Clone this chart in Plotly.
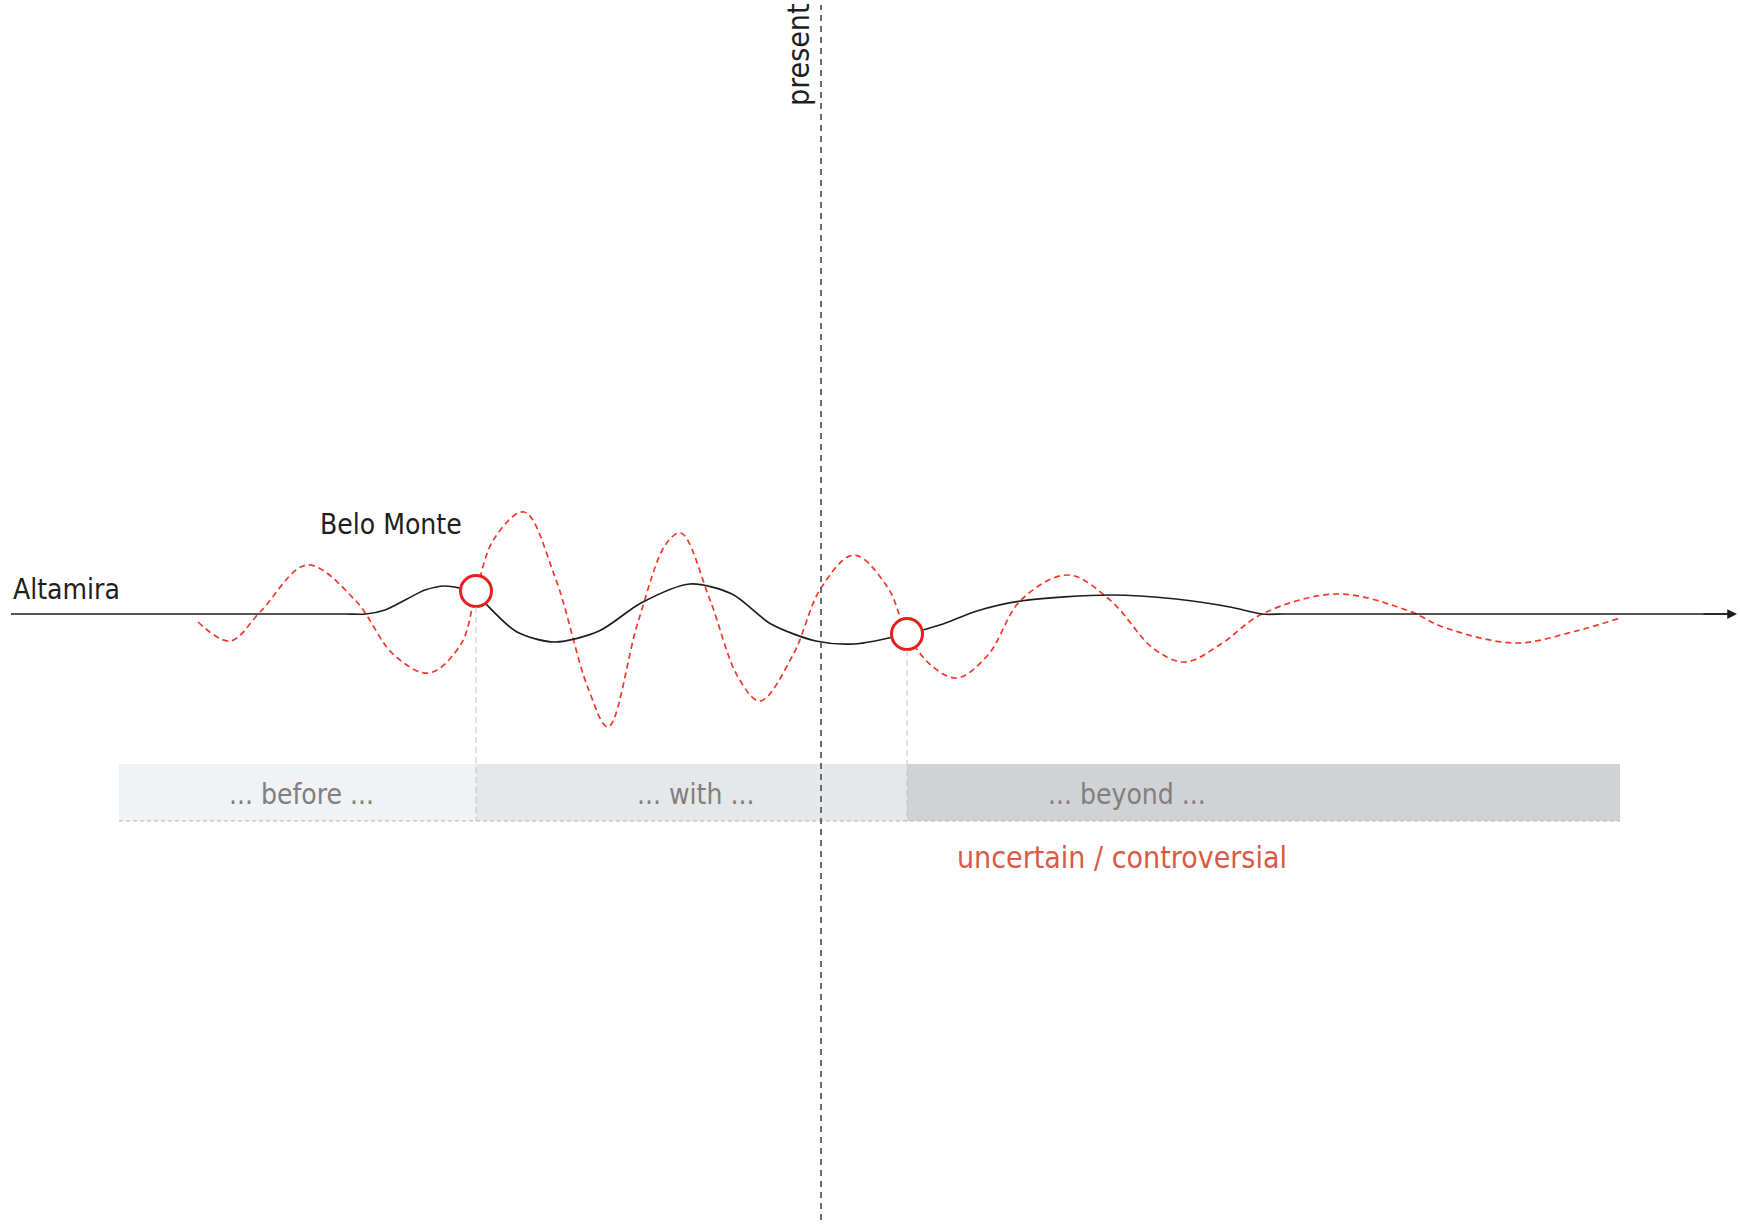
import plotly.graph_objects as go

# ---- data (time in px-like units along the timeline, level = deviation from baseline) ----
black_t = [11, 150, 300, 345, 366, 385, 407, 425, 445, 460, 476, 487, 517, 555, 599, 641, 690, 732,
           771, 816, 854, 907, 943, 977, 1021, 1110, 1176, 1230, 1262, 1285, 1400, 1732]
black_v = [0, 0, 0, 0, 0, 4, 15, 24, 28, 26, 22, 9, -18, -28, -17, 11, 30, 20,
           -10, -27, -30, -20, -10, 3, 13, 19, 15, 7, 0, 0, 0, 0]

red_t = [198, 230, 261, 307, 355, 394, 429, 461, 476, 494, 524, 555, 588, 608, 638, 666, 681,
         710, 738, 760, 793, 821, 854, 888, 907, 932, 957, 988, 1021, 1068, 1110, 1154, 1185,
         1221, 1262, 1337, 1409, 1443, 1515, 1576, 1620]
red_v = [-8, -27, 3, 49, 14, -41, -59, -30, 22, 75, 102, 37, -74, -113, -8, 70, 81,
         14, -63, -87, -41, 26, 59, 26, -20, -52, -64, -41, 14, 39, 14, -35, -48,
         -30, 0, 20, 3, -13, -29, -17, -4]

event_t = [476, 907]
event_v = [23, -20]

present_t = 821
present_range = [-606, 609]

band_start = [119, 476, 907]
band_end = [476, 907, 1620]
band_labels = ["... before ...", "... with ...", "... beyond ..."]
band_label_t = [301, 695, 1127]
band_top = -150
band_bottom = -207
band_label_v = -180

series_labels = ["Altamira", "Belo Monte"]
series_label_t = [11, 318]
series_label_v = [25, 90]

present_label = "present"
uncertain_label = "uncertain / controversial"

FONT = "Liberation Sans Narrow, DejaVu Sans Condensed, Arial Narrow, sans-serif"
band_colors = ["#f1f2f3", "#e6e7e8", "#d1d2d4"]

fig = go.Figure()

shapes = []
for s, e, c in zip(band_start, band_end, band_colors):
    shapes.append(dict(type="rect", xref="x", yref="y", x0=s, x1=e, y0=band_bottom, y1=band_top,
                       fillcolor=c, line=dict(width=0), layer="below"))
shapes.append(dict(type="line", xref="x", yref="y", x0=band_start[0], x1=band_end[-1],
                   y0=band_bottom, y1=band_bottom,
                   line=dict(color="#b4b4b4", width=1, dash="4px,3px")))
for t, v in zip(event_t, event_v):
    shapes.append(dict(type="line", xref="x", yref="y", x0=t, x1=t, y0=v - 16, y1=band_bottom,
                       line=dict(color="#c4c4c4", width=1, dash="6px,4px")))
shapes.append(dict(type="line", xref="x", yref="y", x0=present_t, x1=present_t,
                   y0=present_range[0], y1=present_range[1],
                   line=dict(color="#555555", width=1.7, dash="6px,5px")))

fig.add_trace(go.Scatter(x=red_t, y=red_v, mode="lines",
                         line=dict(color="#f0392b", width=1.7, dash="6px,4px", shape="spline", smoothing=1.0),
                         hoverinfo="skip"))
fig.add_trace(go.Scatter(x=black_t, y=black_v, mode="lines",
                         line=dict(color="#1e1e1e", width=1.7, shape="spline", smoothing=0.8),
                         hoverinfo="skip"))
fig.add_trace(go.Scatter(x=event_t, y=event_v, mode="markers",
                         marker=dict(size=31, color="white", line=dict(color="#e81e1e", width=3)),
                         hoverinfo="skip"))

annotations = []
annotations.append(dict(x=black_t[-1] + 5, y=0, ax=black_t[-1] - 30, ay=0, xref="x", yref="y",
                        axref="x", ayref="y", showarrow=True, arrowhead=2, arrowsize=1.3,
                        arrowwidth=1.5, arrowcolor="#1e1e1e", text=""))
for lab, t, v in zip(series_labels, series_label_t, series_label_v):
    annotations.append(dict(x=t, y=v, xref="x", yref="y", text=lab, showarrow=False,
                            xanchor="left", yanchor="middle",
                            font=dict(family=FONT, size=28, color="#1e1e1e")))
for lab, t in zip(band_labels, band_label_t):
    annotations.append(dict(x=t, y=band_label_v, xref="x", yref="y", text=lab, showarrow=False,
                            xanchor="center", yanchor="middle",
                            font=dict(family=FONT, size=28, color="#808080")))
annotations.append(dict(x=1122, y=-243, xref="x", yref="y", text=uncertain_label, showarrow=False,
                        xanchor="center", yanchor="middle",
                        font=dict(family=FONT, size=30, color="#d85a47")))
annotations.append(dict(x=798, y=559, xref="x", yref="y", text=present_label, showarrow=False,
                        textangle=-90, xanchor="center", yanchor="middle",
                        font=dict(family=FONT, size=30, color="#1e1e1e")))

fig.update_layout(
    width=1740, height=1224, autosize=False,
    margin=dict(l=0, r=0, t=0, b=0),
    paper_bgcolor="white", plot_bgcolor="white",
    showlegend=False, hovermode=False,
    shapes=shapes, annotations=annotations,
    xaxis=dict(range=[0, 1740], visible=False, fixedrange=True),
    yaxis=dict(range=[-610, 614], visible=False, fixedrange=True),
)

fig.write_html("out.html", config={"displayModeBar": False},
               post_script="document.body.style.margin='0px';document.body.style.padding='0px';")
